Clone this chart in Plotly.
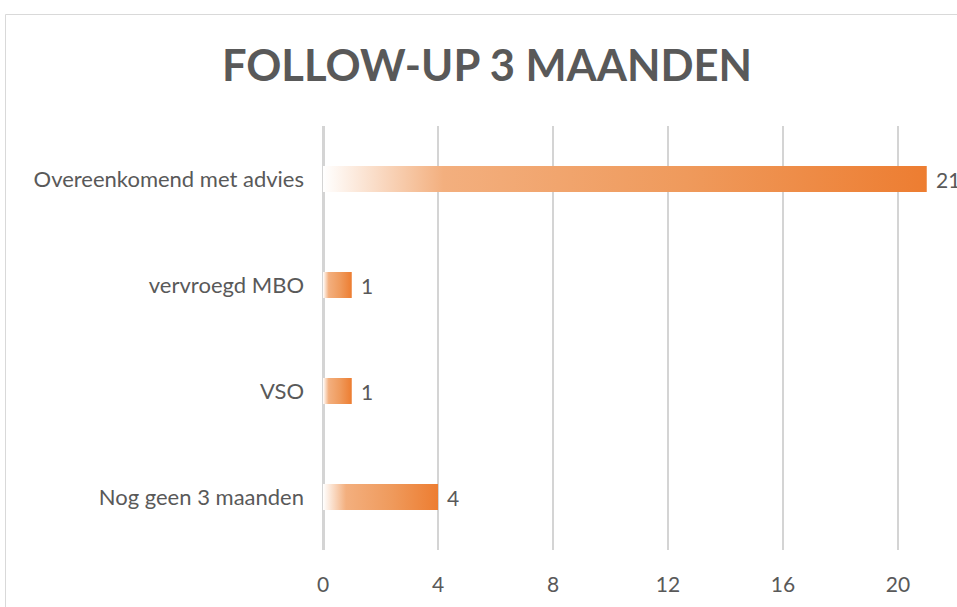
import plotly.graph_objects as go

categories = ["Overeenkomend met advies", "vervroegd MBO", "VSO", "Nog geen 3 maanden"]
values = [21, 1, 1, 4]
tick_vals = [0, 4, 8, 12, 16, 20]
title_text = "FOLLOW-UP 3 MAANDEN"

ORANGE = "#ED7D31"
TEXT = "#595959"
FONT = "Lato"
BAR_W = 0.245

n = len(categories)
ypos = [n - 1 - i for i in range(n)]  # first category on top

fig = go.Figure()
for cat, v, y in zip(categories, values, ypos):
    h = BAR_W / 2
    fig.add_trace(go.Scatter(
        x=[0, v, v, 0, 0],
        y=[y - h, y - h, y + h, y + h, y - h],
        mode="lines",
        line=dict(width=0),
        fill="toself",
        fillgradient=dict(
            type="horizontal",
            colorscale=[[0, "rgba(255,255,255,1)"], [0.2, "#F3AF7E"], [0.6, "#EF9A5C"], [1, ORANGE]],
        ),
        hoverinfo="skip",
        showlegend=False,
    ))

annotations = [
    dict(x=v, y=y, xref="x", yref="y", text=str(v), showarrow=False,
         xanchor="left", xshift=7, yanchor="middle",
         font=dict(family=FONT, size=21, color=TEXT))
    for v, y in zip(values, ypos)
]

fig.update_layout(
    width=957, height=607,
    margin=dict(l=323, r=4, t=126, b=57),
    paper_bgcolor="white", plot_bgcolor="white",
    title=dict(text=f"<b>{title_text}</b>", x=487 / 957, xref="container", xanchor="center",
               y=1 - 66 / 607, yref="container", yanchor="middle",
               font=dict(family=FONT, size=43.5, color=TEXT)),
    xaxis=dict(range=[0, 630 / 28.75], tickvals=tick_vals, showgrid=True,
               gridcolor="#d4d4d4", gridwidth=1.5, zeroline=True, zerolinecolor="#d4d4d4",
               zerolinewidth=2.5, showline=False, ticks="",
               tickfont=dict(family=FONT, size=21, color=TEXT), ticklabelstandoff=20,
               fixedrange=True),
    yaxis=dict(range=[-0.5, n - 0.5], tickvals=ypos, ticktext=categories, showgrid=False,
               zeroline=False, showline=False, ticks="", ticklabelstandoff=18,
               tickfont=dict(family=FONT, size=22, color=TEXT), fixedrange=True),
    annotations=annotations,
    shapes=[dict(type="rect", xref="paper", yref="paper",
                 x0=(5.5 - 323) / 630, x1=1.2, y0=-0.3, y1=1 + (126 - 14.5) / 424,
                 line=dict(color="#d9d9d9", width=1), fillcolor="rgba(0,0,0,0)", layer="below")],
)

fig.write_html("out.html", config={"displayModeBar": False},
               post_script="document.body.style.margin='0';document.body.style.overflow='hidden';")
